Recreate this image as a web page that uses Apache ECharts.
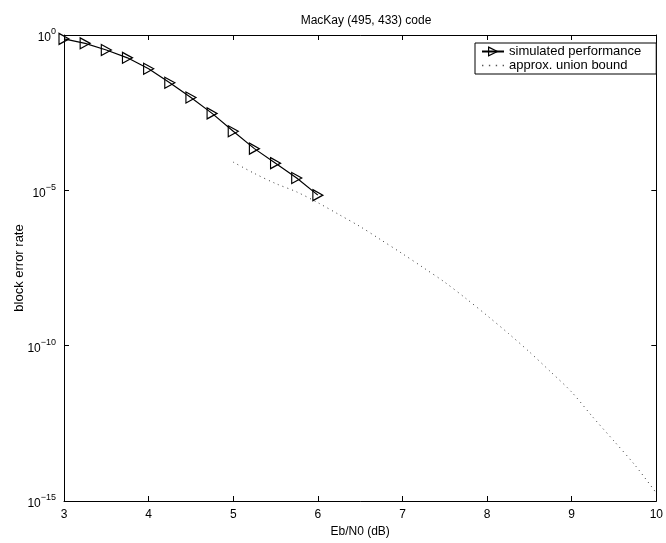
<!DOCTYPE html>
<html>
<head>
<meta charset="utf-8">
<script src="https://cdn.jsdelivr.net/npm/echarts@6/dist/echarts.min.js"></script>
<style>
  html, body { margin: 0; padding: 0; background: #fff; }
  #chart { width: 666px; height: 543px; }
</style>
</head>
<body>
<div id="chart"></div>
<script>
// Eb/N0 (dB) for the simulated curve
const simX = [3, 3.25, 3.5, 3.75, 4, 4.25, 4.5, 4.75, 5, 5.25, 5.5, 5.75, 6];
const simY = [0.75, 0.54, 0.33, 0.184, 0.082, 0.029, 0.0097, 0.003, 8e-4, 2.2e-4, 7.5e-5, 2.5e-5, 7e-6];

// approx. union bound
const boundX = [5, 5.25, 5.5, 5.75, 6, 6.25, 6.5, 6.75, 7, 7.25, 7.5, 7.75, 8, 8.25, 8.5, 8.75, 9, 9.25, 9.5, 9.75, 10];
const boundY = [8.1e-5, 3.5e-5, 1.66e-5, 8.9e-6, 4.0e-6, 1.66e-6, 6.8e-7, 2.5e-7, 9.1e-8, 3.2e-8, 1.1e-8, 3.3e-9,
  9.3e-10, 2.5e-10, 6.3e-11, 1.45e-11, 3.2e-12, 5.0e-13, 8.5e-14, 1.4e-14, 1.8e-15];

const xTicks = [3, 4, 5, 6, 7, 8, 9, 10];
const yExponents = [0, -5, -10, -15];

const font = 'Liberation Sans, Arial, sans-serif';
const chart = echarts.init(document.getElementById('chart'));

const pair = (xs, ys) => xs.map((x, i) => [x, ys[i]]);
const triangle = 'path://M0,0 L10,5 L0,10 Z';
const dots = 'path://M0,0h1v1h-1z M5,0h1v1h-1z M10,0h1v1h-1z M15,0h1v1h-1z';

const option = {
  animation: false,
  textStyle: { fontFamily: font },
  title: {
    text: 'MacKay (495, 433) code',
    left: 361, top: 10, textAlign: 'center',
    textStyle: { fontSize: 12, fontWeight: 'normal', color: '#000', fontFamily: font }
  },
  legend: {
    left: 475, top: 43,
    orient: 'vertical',
    itemWidth: 22, itemHeight: 11, itemGap: 1,
    padding: [2, 15, 2, 6],
    borderColor: '#000', borderWidth: 1,
    backgroundColor: '#fff',
    textStyle: { fontSize: 13, lineHeight: 12, color: '#000', fontFamily: font },
    data: [
      { name: 'simulated performance',
        itemStyle: { color: 'rgba(0,0,0,0)', borderColor: '#000', borderWidth: 1.2 } },
      { name: 'approx. union bound', icon: dots, itemStyle: { color: '#555' } }
    ]
  },
  grid: { left: 64, right: 7, top: 35, bottom: 39 },
  xAxis: [{
    type: 'value', min: 3, max: 10, interval: 1,
    name: 'Eb/N0 (dB)', nameLocation: 'middle', nameGap: 25,
    nameTextStyle: { fontSize: 12, color: '#000', fontFamily: font },
    axisLine: { show: true, lineStyle: { color: '#000', width: 1 } },
    axisTick: { show: true, inside: true, length: 5, lineStyle: { color: '#000' },
      customValues: xTicks.slice(1, -1) },
    axisLabel: { color: '#000', fontSize: 12, margin: 8, fontFamily: font, customValues: xTicks },
    splitLine: { show: false }
  }, {
    type: 'value', min: 3, max: 10, interval: 1, position: 'top',
    axisLine: { show: true, onZero: false, lineStyle: { color: '#000', width: 1 } },
    axisTick: { show: true, inside: true, length: 5, lineStyle: { color: '#000' },
      customValues: xTicks.slice(1, -1) },
    axisLabel: { show: false },
    splitLine: { show: false }
  }],
  yAxis: [{
    type: 'log', logBase: 10, min: 1e-15, max: 1,
    name: 'block error rate', nameLocation: 'middle', nameGap: 38,
    nameMoveOverlap: false,
    nameTextStyle: { fontSize: 13, color: '#000', fontFamily: font },
    axisLine: { show: true, lineStyle: { color: '#000', width: 1 } },
    axisTick: { show: true, inside: true, length: 5, lineStyle: { color: '#000' },
      customValues: yExponents.slice(1, -1).map(e => Math.pow(10, e)) },
    axisLabel: {
      margin: 8,
      customValues: yExponents.map(e => Math.pow(10, e)),
      formatter: v => {
        const e = Math.round(Math.log10(v));
        return '{b|10}{s|' + (e === 0 ? '0' : '\u2212' + (-e)) + '}';
      },
      rich: {
        b: { fontSize: 12, color: '#000', fontFamily: font, padding: [6, 0, 0, 0] },
        s: { fontSize: 9, color: '#000', fontFamily: font, padding: [0, 0, 6, 0] }
      }
    },
    splitLine: { show: false }
  }, {
    type: 'log', logBase: 10, min: 1e-15, max: 1, position: 'right',
    axisLine: { show: true, onZero: false, lineStyle: { color: '#000', width: 1 } },
    axisTick: { show: true, inside: true, length: 5, lineStyle: { color: '#000' },
      customValues: yExponents.slice(1, -1).map(e => Math.pow(10, e)) },
    axisLabel: { show: false },
    splitLine: { show: false }
  }],
  series: [{
    name: 'simulated performance',
    type: 'line',
    data: pair(simX, simY),
    symbol: triangle,
    symbolSize: [10, 11],
    showAllSymbol: true,
    lineStyle: { color: '#000', width: 1.2 },
    itemStyle: { color: 'rgba(0,0,0,0)', borderColor: '#000', borderWidth: 1.2 },
    z: 3
  }, {
    name: 'approx. union bound',
    type: 'line',
    data: pair(boundX, boundY),
    smooth: 0.3,
    symbol: 'none',
    lineStyle: { color: '#333', width: 1, type: [1, 4] },
    itemStyle: { color: '#555' }
  }]
};

chart.setOption(option);
</script>
</body>
</html>
